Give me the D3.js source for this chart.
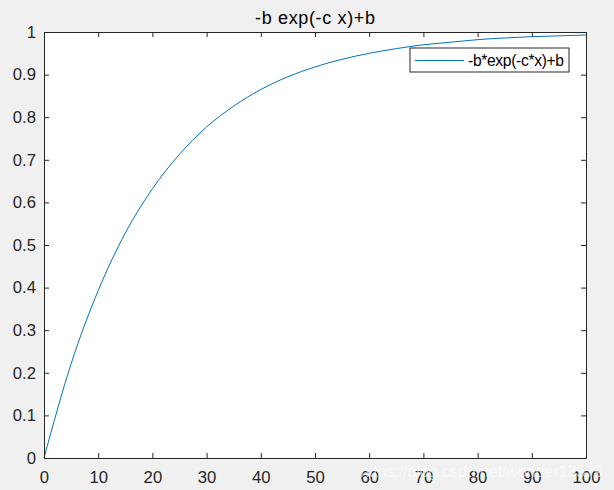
<!DOCTYPE html>
<html>
<head>
<meta charset="utf-8">
<script src="https://cdn.jsdelivr.net/npm/d3@7"></script>
<style>
  html, body { margin: 0; padding: 0; background: #f0f0f0; }
  svg { display: block; font-family: "Liberation Sans", Arial, sans-serif; }
</style>
</head>
<body>
<div id="chart-container"></div>
<script>
// Values
const xValues = [0, 5, 10, 15, 20, 25, 30, 35, 40, 45, 50, 55, 60, 65, 70, 75, 80, 85, 90, 95, 100];
const yValues = [0, 0.221, 0.393, 0.528, 0.632, 0.713, 0.777, 0.826, 0.865, 0.895, 0.918,
                 0.936, 0.950, 0.961, 0.970, 0.976, 0.982, 0.986, 0.989, 0.991, 0.993];
const xTicks = [0, 10, 20, 30, 40, 50, 60, 70, 80, 90, 100];
const yTicks = [0, 0.1, 0.2, 0.3, 0.4, 0.5, 0.6, 0.7, 0.8, 0.9, 1];
const titleText = "-b exp(-c x)+b";
const legendText = "-b*exp(-c*x)+b";

const W = 614, H = 490;
const margin = { top: 32, right: 28, bottom: 32, left: 44 };
const width = W - margin.left - margin.right;
const height = H - margin.top - margin.bottom;
const axisColor = "#262626";
const tickLen = 5;

const svg = d3.select("#chart-container")
  .append("svg")
    .attr("width", W)
    .attr("height", H);

const g = svg.append("g")
    .attr("transform", `translate(${margin.left},${margin.top})`);

const xScale = d3.scaleLinear().domain([0, 100]).range([0, width]);
const yScale = d3.scaleLinear().domain([0, 1]).range([height, 0]);

// plot area
g.append("rect")
  .attr("width", width)
  .attr("height", height)
  .attr("fill", "#fff");

// curve
const data = xValues.map((x, i) => ({ x, y: yValues[i] }));
g.append("path")
  .datum(data)
  .attr("fill", "none")
  .attr("stroke", "#0072bd")
  .attr("stroke-width", 1)
  .attr("d", d3.line()
    .x(d => xScale(d.x))
    .y(d => yScale(d.y))
    .curve(d3.curveMonotoneX));

// axes (MATLAB style: inward ticks, mirrored box)
function styleAxis(sel) {
  sel.select(".domain").attr("stroke", axisColor);
  sel.selectAll(".tick line").attr("stroke", axisColor);
  sel.selectAll(".tick text")
    .attr("fill", axisColor)
    .style("font-size", "16.7px");
}

g.append("g")
  .attr("transform", `translate(0,${height})`)
  .call(d3.axisBottom(xScale).tickValues(xTicks).tickSizeInner(-tickLen).tickSizeOuter(0).tickPadding(13).tickFormat(d3.format("d")))
  .call(styleAxis);

g.append("g")
  .call(d3.axisTop(xScale).tickValues(xTicks).tickSizeInner(-tickLen).tickSizeOuter(0).tickFormat(""))
  .call(styleAxis);

g.append("g")
  .call(d3.axisLeft(yScale).tickValues(yTicks).tickSizeInner(-tickLen).tickSizeOuter(0).tickPadding(8).tickFormat(d => d === 0 || d === 1 ? d : d3.format(".1f")(d)))
  .call(styleAxis);

g.append("g")
  .attr("transform", `translate(${width},0)`)
  .call(d3.axisRight(yScale).tickValues(yTicks).tickSizeInner(-tickLen).tickSizeOuter(0).tickFormat(""))
  .call(styleAxis);

// title
svg.append("text")
  .attr("x", margin.left + width / 2)
  .attr("y", 24)
  .attr("text-anchor", "middle")
  .attr("fill", "#000")
  .attr("textLength", 120)
  .style("font-size", "18px")
  .text(titleText);

// legend
const legend = g.append("g").attr("transform", `translate(${width - 176},16)`);
legend.append("rect")
  .attr("width", 159)
  .attr("height", 24)
  .attr("fill", "#fff")
  .attr("stroke", axisColor)
  .attr("stroke-width", 1);
legend.append("line")
  .attr("x1", 5).attr("x2", 54)
  .attr("y1", 12.5).attr("y2", 12.5)
  .attr("stroke", "#0072bd")
  .attr("stroke-width", 1);
legend.append("text")
  .attr("x", 58)
  .attr("y", 12.5)
  .attr("dy", "0.35em")
  .attr("fill", "#000")
  .attr("textLength", 96)
  .style("font-size", "15.6px")
  .text(legendText);

// watermark
svg.append("text")
  .attr("x", 360)
  .attr("y", 477)
  .attr("fill", "#fff")
  .attr("fill-opacity", 0.6)
  .attr("textLength", 243)
  .style("font-size", "16.4px")
  .text("https://blog.csdn.net/wonder13579");
</script>
</body>
</html>
